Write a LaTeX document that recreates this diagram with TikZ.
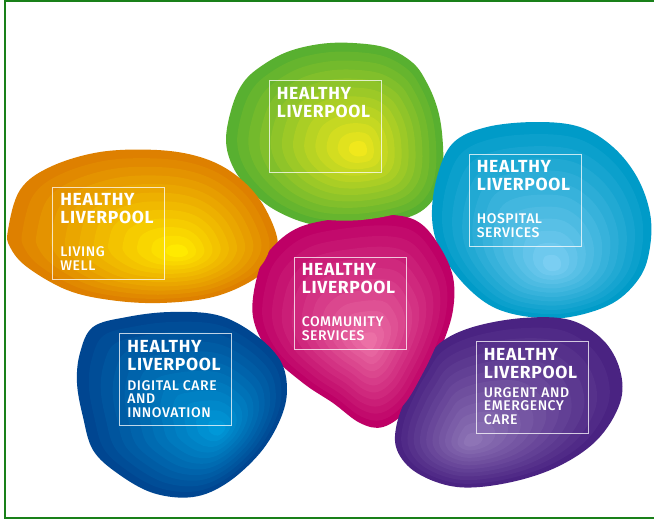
\documentclass[tikz,border=0pt]{standalone}
\usepackage{fontspec}
\setmainfont{Fira Sans}
\newfontfamily\headfont{Fira Sans}[LetterSpace=4]
\newfontfamily\subfont{Fira Sans Medium}[LetterSpace=4]
\definecolor{grnout}{RGB}{88,176,48}
\definecolor{grnin}{RGB}{240,232,28}
\definecolor{orgout}{RGB}{222,128,0}
\definecolor{orgin}{RGB}{255,234,0}
\definecolor{cyaout}{RGB}{0,155,200}
\definecolor{cyain}{RGB}{122,206,242}
\definecolor{pnkout}{RGB}{190,0,102}
\definecolor{pnkin}{RGB}{236,112,166}
\definecolor{dbout}{RGB}{0,70,145}
\definecolor{dbin}{RGB}{0,152,216}
\definecolor{purout}{RGB}{74,35,130}
\definecolor{purin}{RGB}{142,116,182}
\definecolor{framegreen}{RGB}{25,128,25}

\begin{document}
\begin{tikzpicture}[x=1pt,y=-1pt,
        panel/.style={draw=white,draw opacity=0.75,line width=0.7pt,minimum width=112pt,minimum height=92pt,inner sep=0pt},
        headline/.style={text=white,anchor=north west,inner sep=0pt,align=left,font=\headfont\bfseries\fontsize{17.5}{17.7}\selectfont},
        subline/.style={text=white,anchor=north west,inner sep=0pt,align=left,font=\subfont\fontsize{14}{13.6}\selectfont}]
        \clip (0,0) rectangle (654,520);
        \fill[white] (0,0) rectangle (654,520);
        \draw[framegreen,line width=2pt] (660,1) -- (5,1) -- (5,518.3) -- (660,518.3);
        \foreach \k in {0,...,11}{
                \pgfmathsetmacro\s{1-\k/12}
                \pgfmathtruncatemacro\p{\k*100/11}
                \fill[grnin!\p!grnout,shift={(360,150)},scale=\s,shift={(-360,-150)}] plot[smooth cycle,tension=0.6] coordinates {(226,140) (232,107) (243,83) (260,67) (287,52) (320,44) (353,43) (387,48) (413,63) (427,83) (437,107) (442,133) (443,167) (437,193) (420,212) (390,222) (350,227) (310,224) (275,210) (250,190) (233,167)};
                \fill[orgin!\p!orgout,shift={(180,253)},scale=\s,shift={(-180,-253)}] plot[smooth cycle,tension=0.6] coordinates {(8,230) (20,190) (50,167) (100,152) (157,150) (200,157) (233,173) (260,200) (277,237) (273,260) (253,280) (213,297) (160,303) (110,300) (67,290) (27,267) (10,247)};
                \fill[cyain!\p!cyaout,shift={(553,267)},scale=\s,shift={(-553,-267)}] plot[smooth cycle,tension=0.6] coordinates {(437,177) (453,143) (487,127) (537,122) (580,127) (613,147) (637,177) (650,213) (650,247) (640,277) (613,303) (570,317) (530,317) (493,307) (463,283) (440,250) (432,217)};
                \fill[pnkin!\p!pnkout,shift={(370,343)},scale=\s,shift={(-370,-343)}] plot[smooth cycle,tension=0.6] coordinates {(257,277) (270,250) (300,227) (350,217) (393,215) (420,223) (440,247) (453,277) (453,310) (443,343) (427,377) (407,410) (383,427) (360,423) (333,403) (303,383) (270,353) (253,317)};
                \fill[dbin!\p!dbout,shift={(220,430)},scale=\s,shift={(-220,-430)}] plot[smooth cycle,tension=0.6] coordinates {(80,353) (93,327) (127,317) (170,312) (217,315) (253,333) (280,360) (287,390) (280,420) (260,453) (227,483) (193,497) (153,493) (117,473) (93,450) (83,417) (77,383)};
                \fill[purin!\p!purout,shift={(470,443)},scale=\s,shift={(-470,-443)}] plot[smooth cycle,tension=0.6] coordinates {(423,367) (440,343) (473,327) (523,318) (570,320) (603,340) (620,370) (620,403) (597,440) (557,467) (507,483) (457,487) (417,473) (397,450) (397,423) (410,390)};
        }
        \node[panel] (green) at (325,126.5) {};
        \node[panel] (orange) at (108.5,233) {};
        \node[panel] (cyan) at (525,200) {};
        \node[panel] (pink) at (350,303) {};
        \node[panel] (darkblue) at (175.5,379.5) {};
        \node[panel] (purple) at (532,387.5) {};
        \node[headline] (greentitle) at ([shift={(8,7)}]green.north west) {HEALTHY\\LIVERPOOL};
        \node[headline] (orangetitle) at ([shift={(8,7)}]orange.north west) {HEALTHY\\LIVERPOOL};
        \node[subline] (livingwell) at ([shift={(8,60)}]orange.north west) {LIVING\\WELL};
        \node[headline] (cyantitle) at ([shift={(8,7)}]cyan.north west) {HEALTHY\\LIVERPOOL};
        \node[subline] (hospital) at ([shift={(8,60)}]cyan.north west) {HOSPITAL\\SERVICES};
        \node[headline] (pinktitle) at ([shift={(8,7)}]pink.north west) {HEALTHY\\LIVERPOOL};
        \node[subline] (community) at ([shift={(8,60)}]pink.north west) {COMMUNITY\\SERVICES};
        \node[headline] (darkbluetitle) at ([shift={(8,7)}]darkblue.north west) {HEALTHY\\LIVERPOOL};
        \node[subline] (digital) at ([shift={(8,47)}]darkblue.north west) {DIGITAL CARE\\AND\\INNOVATION};
        \node[headline] (purpletitle) at ([shift={(8,7)}]purple.north west) {HEALTHY\\LIVERPOOL};
        \node[subline] (urgent) at ([shift={(8,46)}]purple.north west) {URGENT AND\\EMERGENCY\\CARE};
\end{tikzpicture}
\end{document}
